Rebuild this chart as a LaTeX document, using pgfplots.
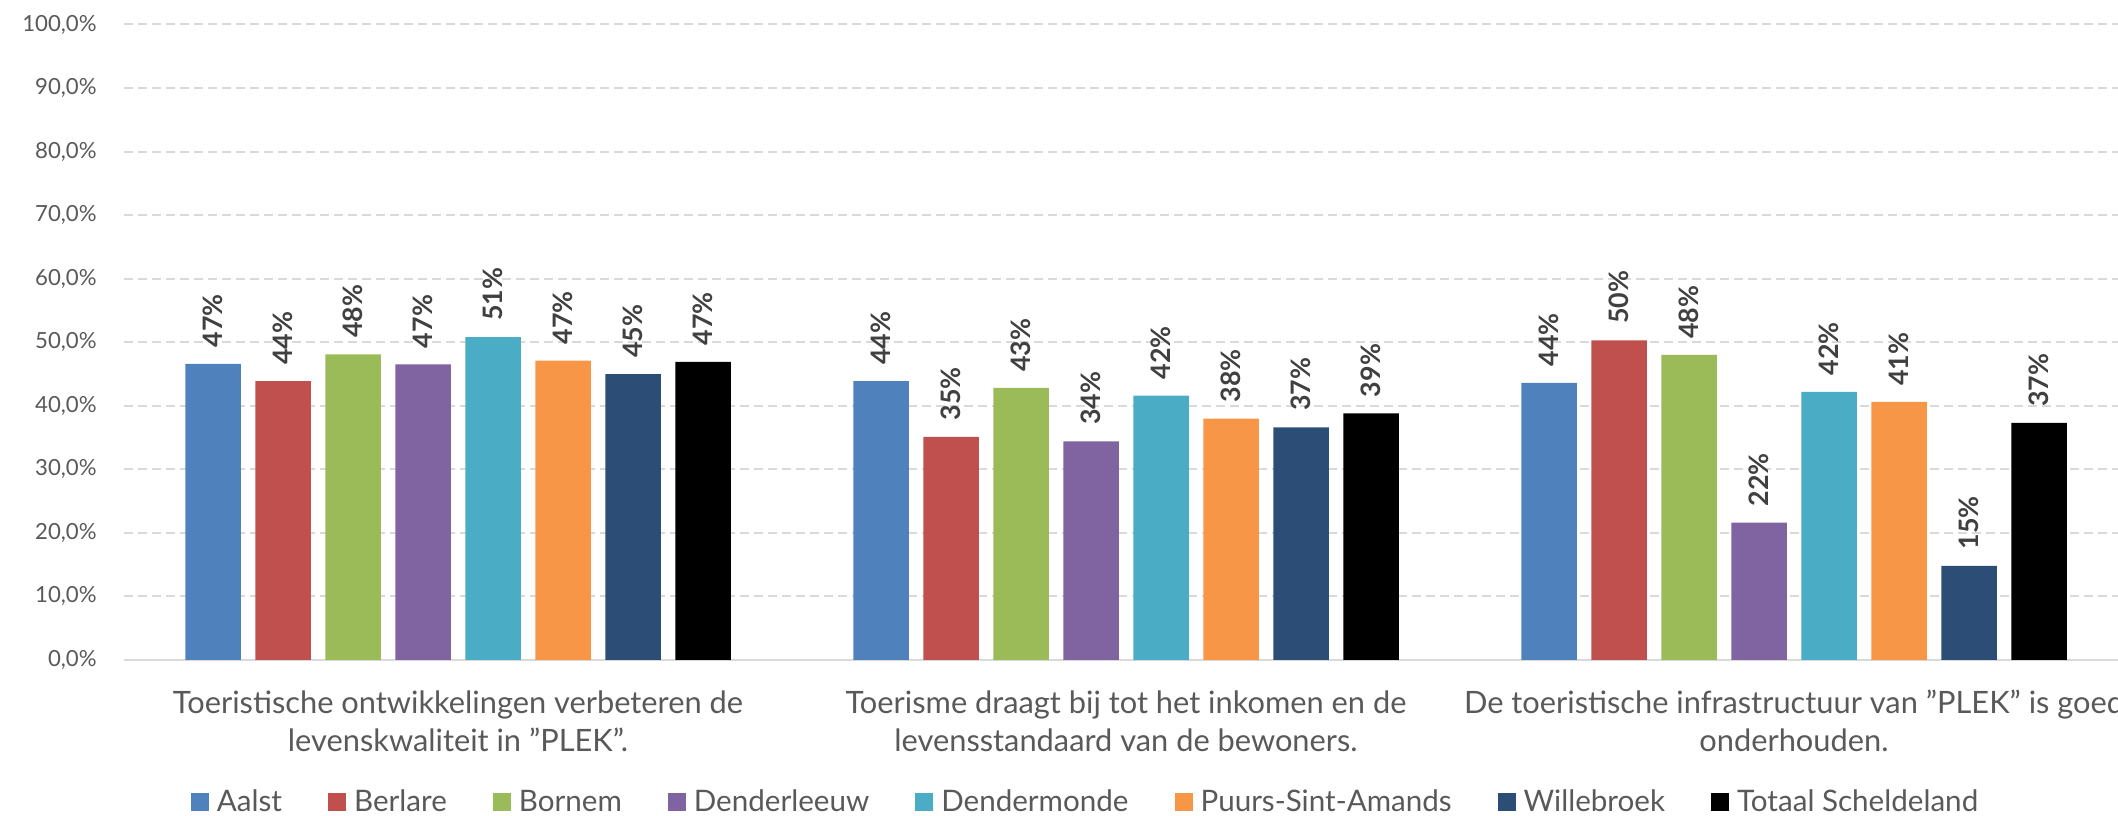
\documentclass[border=0pt]{standalone}
\usepackage{pgfplots}
\pgfplotsset{compat=1.18}
\usepackage{fontspec}
\setmainfont{Lato}
\definecolor{cAalst}{HTML}{4F81BD}
\definecolor{cBerlare}{HTML}{C0504D}
\definecolor{cBornem}{HTML}{9BBB59}
\definecolor{cDenderleeuw}{HTML}{8064A2}
\definecolor{cDendermonde}{HTML}{4BACC6}
\definecolor{cPuurs}{HTML}{F79646}
\definecolor{cWillebroek}{HTML}{2C4D75}
\definecolor{cTotaal}{HTML}{000000}
\definecolor{txt}{HTML}{595959}
\definecolor{lbl}{HTML}{404040}
\definecolor{gridc}{HTML}{D9D9D9}
\pgfplotsset{/pgfplots/ybar legend/.style={/pgfplots/legend image code/.code={\fill[##1] (0pt,-4.5pt) rectangle (9pt,4.5pt);}}}
\begin{document}
\begin{tikzpicture}
\begin{axis}[
  scale only axis, width=1002pt, height=317.75pt,
  xmin=-0.5, xmax=2.5, ymin=0, ymax=100,
  ybar=7.25pt, bar width=27.75pt,
  axis line style={draw=none},
  major tick length=0pt,
  /pgf/number format/assume math mode=true,
  ytick={0,10,...,100},
  yticklabels={{0,0\%},{10,0\%},{20,0\%},{30,0\%},{40,0\%},{50,0\%},{60,0\%},{70,0\%},{80,0\%},{90,0\%},{100,0\%}},
  ymajorgrids,
  grid style={gridc, line width=1pt, dash pattern=on 4.5pt off 2.5pt},
  extra y ticks={0}, extra y tick labels={},
  extra y tick style={grid style={gridc, line width=1pt, solid}},
  yticklabel style={font=\fontsize{11.1}{13}\selectfont, text=txt, inner sep=0pt, xshift=-13.5pt},
  xtick={0,1,2},
  xticklabels={{Toeristische ontwikkelingen verbeteren de\\levenskwaliteit in ”PLEK”.},{Toerisme draagt bij tot het inkomen en de\\levensstandaard van de bewoners.},{De toeristische infrastructuur van ”PLEK” is goed\\onderhouden.}},
  xticklabel style={font=\fontsize{15.4}{19}\selectfont, text=txt, align=center, inner sep=0pt, yshift=-15pt},
  point meta=explicit,
  nodes near coords={\pgfmathprintnumber[fixed,precision=0,assume math mode=true]{\pgfplotspointmeta}\%},
  nodes near coords style={rotate=90, anchor=west, font=\bfseries\fontsize{13.4}{15}\selectfont, text=lbl, inner ysep=0pt, inner xsep=8pt},
  legend columns=8,
  legend style={draw=none, fill=none, at={(0.0334,-0.2227)}, anchor=west, inner sep=0pt, outer sep=0pt,
    font=\fontsize{14.8}{17}\selectfont, text=txt,
    nodes={inner sep=0pt, text height=10.35pt, text depth=0pt},
    /tikz/every odd column/.append style={column sep=4pt},
    /tikz/every even column/.append style={column sep=23pt}},
]
\addplot[fill=cAalst, draw=none] coordinates {(0,46.6) [47] (1,43.9) [44] (2,43.6) [44]};
\addplot[fill=cBerlare, draw=none] coordinates {(0,43.9) [44] (1,35.1) [35] (2,50.3) [50]};
\addplot[fill=cBornem, draw=none] coordinates {(0,48.1) [48] (1,42.8) [43] (2,48.0) [48]};
\addplot[fill=cDenderleeuw, draw=none] coordinates {(0,46.5) [47] (1,34.4) [34] (2,21.6) [22]};
\addplot[fill=cDendermonde, draw=none] coordinates {(0,50.8) [51] (1,41.6) [42] (2,42.2) [42]};
\addplot[fill=cPuurs, draw=none] coordinates {(0,47.1) [47] (1,38.0) [38] (2,40.6) [41]};
\addplot[fill=cWillebroek, draw=none] coordinates {(0,45.0) [45] (1,36.6) [37] (2,14.8) [15]};
\addplot[fill=cTotaal, draw=none] coordinates {(0,46.9) [47] (1,38.8) [39] (2,37.3) [37]};
\legend{Aalst,Berlare,Bornem,Denderleeuw,Dendermonde,Puurs-Sint-Amands,Willebroek,Totaal Scheldeland}
\end{axis}
\pgfresetboundingbox
\path[use as bounding box] ([xshift=-62pt,yshift=-78pt]current axis.south west) rectangle ([xshift=-5pt,yshift=12.25pt]current axis.north east);
\end{tikzpicture}
\end{document}
